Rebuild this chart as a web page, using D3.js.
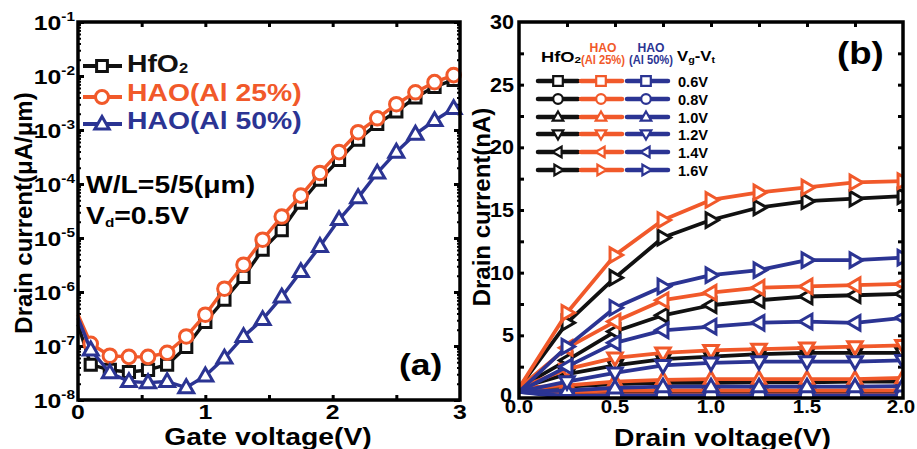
<!DOCTYPE html>
<html>
<head>
<meta charset="utf-8">
<script src="https://cdn.jsdelivr.net/npm/d3@7"></script>
<style>
  body { margin: 0; background: #fff; }
  text { font-family: "Liberation Sans", Arial, sans-serif; font-weight: bold; }
</style>
</head>
<body>
<script>
// ---- panel (a): transfer curves, Vd = 0.5 V
let gateV = [0, 0.1, 0.25, 0.4, 0.55, 0.7, 0.85, 1.0, 1.15, 1.3, 1.45, 1.6, 1.75, 1.9, 2.05, 2.2, 2.35, 2.5, 2.65, 2.8, 2.95];
let idHfO2 = [2.5e-7, 4.5e-8, 3.6e-8, 3.3e-8, 3.6e-8, 4.5e-8, 9.6e-8, 2.8e-7, 7.2e-7, 1.9e-6, 6.1e-6, 1.4e-5, 4.5e-5, 1.2e-4, 2.8e-4, 6.6e-4, 1.3e-3, 2.2e-3, 4.0e-3, 6.3e-3, 8.5e-3];
let idHao25 = [3.8e-7, 1.1e-7, 6.6e-8, 6.3e-8, 6.3e-8, 7.5e-8, 1.5e-7, 3.8e-7, 1.15e-6, 3.2e-6, 9.3e-6, 2.5e-5, 6.1e-5, 1.6e-4, 3.9e-4, 9.1e-4, 1.65e-3, 3.0e-3, 5.0e-3, 7.7e-3, 1.04e-2];
let idHao50 = [3.3e-7, 8.5e-8, 3.2e-8, 2.2e-8, 2.1e-8, 2.2e-8, 1.7e-8, 2.8e-8, 6.0e-8, 1.5e-7, 3.1e-7, 8.1e-7, 2.4e-6, 7.0e-6, 2.2e-5, 5.6e-5, 1.6e-4, 3.9e-4, 8.4e-4, 1.5e-3, 2.5e-3];
let decades = [1e-8, 1e-7, 1e-6, 1e-5, 1e-4, 1e-3, 1e-2, 1e-1];
let gateTicks = [0, 1, 2, 3];

// ---- panel (b): output curves
let drainV = [0, 0.25, 0.5, 0.75, 1.0, 1.25, 1.5, 1.75, 2.0];
let overdrive = ["0.6V", "0.8V", "1.0V", "1.2V", "1.4V", "1.6V"];
let shapes = ["square", "circle", "up", "down", "left", "right"];
let outHfO2 = [
  [0.8, 0.15, 0.15, 0.15, 0.15, 0.15, 0.15, 0.15, 0.15],
  [0.8, 0.4, 0.5, 0.5, 0.5, 0.5, 0.5, 0.5, 0.5],
  [0.8, 0.9, 1.1, 1.2, 1.2, 1.25, 1.25, 1.3, 1.3],
  [0.8, 1.9, 2.6, 3.1, 3.3, 3.5, 3.6, 3.6, 3.6],
  [0.8, 3.0, 5.3, 6.6, 7.4, 7.8, 8.1, 8.2, 8.3],
  [0.8, 6.0, 9.6, 12.8, 14.2, 15.2, 15.7, 15.9, 16.1]
];
let outHao25 = [
  [0.8, 0.2, 0.25, 0.25, 0.25, 0.25, 0.25, 0.25, 0.25],
  [0.8, 0.5, 0.6, 0.6, 0.6, 0.6, 0.6, 0.6, 0.6],
  [0.8, 1.0, 1.3, 1.45, 1.5, 1.5, 1.5, 1.5, 1.6],
  [0.8, 2.3, 3.2, 3.6, 3.8, 3.9, 4.0, 4.1, 4.2],
  [0.8, 4.0, 6.1, 7.8, 8.4, 8.8, 8.9, 9.0, 9.1],
  [0.8, 6.8, 11.4, 14.2, 15.8, 16.4, 16.8, 17.2, 17.3]
];
let outHao50 = [
  [0.5, 0.05, 0.05, 0.05, 0.05, 0.05, 0.05, 0.05, 0.05],
  [0.5, 0.15, 0.2, 0.2, 0.2, 0.2, 0.2, 0.2, 0.2],
  [0.5, 0.6, 0.8, 0.9, 0.9, 0.9, 0.9, 0.9, 0.95],
  [0.5, 1.3, 2.0, 2.6, 2.8, 2.9, 2.9, 2.9, 3.0],
  [0.5, 2.5, 4.4, 5.4, 5.7, 6.0, 6.1, 6.0, 6.4],
  [0.5, 4.1, 7.2, 8.9, 9.8, 10.2, 11.0, 11.0, 11.2]
];
let currentTicks = [0, 5, 10, 15, 20, 25, 30];
let drainTicks = [0, 0.5, 1.0, 1.5, 2.0];

let colors = { hfo2: "#111111", hao25: "#f1592a", hao50: "#2b3493" };
let SX = 1.18; // the figure is a little wider than tall, text too

let svg = d3.select("body").append("svg")
  .attr("width", 917)
  .attr("height", 449);

// marker outline centred on 0,0
function markerPath(type, r) {
  switch (type) {
    case "square": return `M${-r},${-r}H${r}V${r}H${-r}Z`;
    case "circle": return `M${r},0A${r},${r} 0 1,1 ${-r},0A${r},${r} 0 1,1 ${r},0Z`;
    case "up": return `M0,${-r * 1.15}L${r * 1.1},${r * 0.75}L${-r * 1.1},${r * 0.75}Z`;
    case "down": return `M0,${r * 1.15}L${r * 1.1},${-r * 0.75}L${-r * 1.1},${-r * 0.75}Z`;
    case "left": return `M${-r * 1.15},0L${r * 0.75},${-r * 1.1}L${r * 0.75},${r * 1.1}Z`;
    case "right": return `M${r * 1.15},0L${-r * 0.75},${-r * 1.1}L${-r * 0.75},${r * 1.1}Z`;
  }
}

function label(x, y, size, anchor, sx) {
  return svg.append("text")
    .attr("transform", `translate(${x},${y}) scale(${sx || SX},1)`)
    .attr("font-size", size)
    .attr("text-anchor", anchor || "start");
}

function series(g, xs, ys, x, y, color, shape, r, lw) {
  let pts = xs.map((v, i) => [v, ys[i]]);
  g.append("path")
    .attr("d", d3.line().x(d => x(d[0])).y(d => y(d[1]))(pts))
    .attr("fill", "none")
    .attr("stroke", color)
    .attr("stroke-width", lw)
    .attr("stroke-linejoin", "round");
  g.selectAll(null)
    .data(pts.slice(1))
    .enter().append("path")
    .attr("transform", d => `translate(${x(d[0])},${y(d[1])})`)
    .attr("d", markerPath(shape, r))
    .attr("fill", "#fff")
    .attr("stroke", color)
    .attr("stroke-width", 3);
}

function styleAxis(g) {
  g.select(".domain").remove();
  g.selectAll(".tick line").attr("stroke", "#000").attr("stroke-width", 3);
}

// ================= panel (a)
let xa = d3.scaleLinear().domain([0, 3]).range([78, 460]);
let ya = d3.scaleLog().domain([1e-8, 1e-1]).range([400, 22]);

let minorLog = [];
decades.slice(0, -1).forEach(d => { for (let k = 2; k < 10; k++) minorLog.push(d * k); });

svg.append("g").attr("transform", "translate(0,400)")
  .call(d3.axisBottom(xa).tickValues([0.5, 1, 1.5, 2, 2.5]).tickSize(-5).tickFormat("")).call(styleAxis);
svg.append("g").attr("transform", "translate(0,22)")
  .call(d3.axisTop(xa).tickValues([0.5, 1, 1.5, 2, 2.5]).tickSize(-5).tickFormat("")).call(styleAxis);
[[78, d3.axisLeft], [460, d3.axisRight]].forEach(([px, ax]) => {
  svg.append("g").attr("transform", `translate(${px},0)`)
    .call(ax(ya).tickValues(decades).tickSize(-6).tickFormat("")).call(styleAxis);
  svg.append("g").attr("transform", `translate(${px},0)`)
    .call(ax(ya).tickValues(minorLog).tickSize(-3).tickFormat(""))
    .call(g => { g.select(".domain").remove(); g.selectAll(".tick line").attr("stroke", "#000").attr("stroke-width", 2); });
});

decades.forEach(d => {
  let t = label(75, ya(d) + 7.5, 21, "end");
  t.append("tspan").text("10");
  t.append("tspan").attr("font-size", 13).attr("dy", -9).text(String(Math.round(Math.log10(d))));
});
gateTicks.forEach(d => label(xa(d), 419, 21, "middle").text(d));

let ga = svg.append("g");
series(ga, gateV, idHfO2, xa, ya, colors.hfo2, "square", 5.6, 3.4);
series(ga, gateV, idHao25, xa, ya, colors.hao25, "circle", 6.8, 3.4);
series(ga, gateV, idHao50, xa, ya, colors.hao50, "up", 6.8, 3.4);

svg.append("rect").attr("x", 78).attr("y", 22).attr("width", 382).attr("height", 378)
  .attr("fill", "none").attr("stroke", "#000").attr("stroke-width", 3.5);

// legend (a)
let legA = [
  ["HfO", "2", colors.hfo2, "square", 5.4, 66, 72],
  ["HAO(Al 25%)", "", colors.hao25, "circle", 6.5, 97, 101],
  ["HAO(Al 50%)", "", colors.hao50, "up", 6.5, 124, 129]
];
legA.forEach(([name, sub, color, shape, r, ly, by]) => {
  svg.append("line").attr("x1", 83).attr("x2", 122).attr("y1", ly).attr("y2", ly)
    .attr("stroke", color).attr("stroke-width", 4);
  svg.append("path").attr("transform", `translate(102,${ly})`).attr("d", markerPath(shape, r))
    .attr("fill", "#fff").attr("stroke", color).attr("stroke-width", 3);
  let t = label(127, by, 24).attr("fill", color);
  t.append("tspan").text(name);
  if (sub) t.append("tspan").attr("font-size", 14).attr("dy", 1).text(sub);
});

label(86, 193, 24).text("W/L=5/5(μm)");
let vd = label(86, 224, 24);
vd.append("tspan").text("V");
vd.append("tspan").attr("font-size", 13).attr("dy", 3).text("d");
vd.append("tspan").attr("dy", -3).text("=0.5V");
label(399, 375, 30).text("(a)");

label(xa(1.5) - 1, 445, 24, "middle").text("Gate voltage(V)");
svg.append("text").attr("transform", "translate(32,213) rotate(-90)")
  .attr("font-size", 24).attr("text-anchor", "middle").text("Drain current(μA/μm)");

// ================= panel (b)
let xb = d3.scaleLinear().domain([0, 2]).range([519, 903]);
let yb = d3.scaleLinear().domain([0, 30]).range([398, 22]);

let drainMinor = d3.range(0.25, 2, 0.25);
let currentMinor = d3.range(2.5, 30, 2.5);
svg.append("g").attr("transform", "translate(0,398)")
  .call(d3.axisBottom(xb).tickValues(drainMinor).tickSize(-5).tickFormat("")).call(styleAxis);
svg.append("g").attr("transform", "translate(0,22)")
  .call(d3.axisTop(xb).tickValues(drainMinor).tickSize(-5).tickFormat("")).call(styleAxis);
svg.append("g").attr("transform", "translate(519,0)")
  .call(d3.axisLeft(yb).tickValues(currentMinor).tickSize(-5).tickFormat("")).call(styleAxis);
svg.append("g").attr("transform", "translate(903,0)")
  .call(d3.axisRight(yb).tickValues(currentMinor).tickSize(-5).tickFormat("")).call(styleAxis);

currentTicks.forEach(d => label(d === 0 ? 512 : 514, yb(d) + (d === 0 ? 4 : 7), 20, "end", 1.08).text(d));
drainTicks.forEach(d => label(xb(d) - (d === 2 ? 2 : 0), 413, 19, "middle", 1.08).text(d.toFixed(1)));

svg.append("clipPath").attr("id", "clipb")
  .append("rect").attr("x", 519).attr("y", 22).attr("width", 384).attr("height", 376);
let gb = svg.append("g").attr("clip-path", "url(#clipb)");
[[outHfO2, colors.hfo2], [outHao25, colors.hao25], [outHao50, colors.hao50]].forEach(([set, color]) => {
  set.forEach((ys, i) => series(gb, drainV, ys, xb, yb, color, shapes[i], 6.6, 3.8));
});

svg.append("rect").attr("x", 519).attr("y", 22).attr("width", 384).attr("height", 376)
  .attr("fill", "none").attr("stroke", "#000").attr("stroke-width", 3.5);

// legend (b)
let h1 = label(541, 62, 14, "start", 1)
  .attr("textLength", 40).attr("lengthAdjust", "spacingAndGlyphs");
h1.append("tspan").text("HfO");
h1.append("tspan").attr("font-size", 9).attr("dy", 1).text("2");
[[603, "HAO", "(Al 25%)", colors.hao25], [651, "HAO", "(Al 50%)", colors.hao50]].forEach(([cx, top, bottom, color]) => {
  label(cx, 52, 12, "middle", 1).attr("fill", color)
    .attr("textLength", 27).attr("lengthAdjust", "spacingAndGlyphs").text(top);
  label(cx, 64, 12, "middle", 1).attr("fill", color)
    .attr("textLength", 44).attr("lengthAdjust", "spacingAndGlyphs").text(bottom);
});
let vgt = label(677, 61, 14, "start", 1)
  .attr("textLength", 38).attr("lengthAdjust", "spacingAndGlyphs");
vgt.append("tspan").text("V");
vgt.append("tspan").attr("font-size", 9).attr("dy", 2).text("g");
vgt.append("tspan").attr("dy", -2).text("-V");
vgt.append("tspan").attr("font-size", 9).attr("dy", 2).text("t");

let legRows = [81, 99, 117, 134, 152, 170];
let legCols = [[538, 578, 558, colors.hfo2], [581, 622, 601, colors.hao25], [627, 668, 646, colors.hao50]];
overdrive.forEach((name, i) => {
  let ly = legRows[i];
  legCols.forEach(([x1, x2, mx, color]) => {
    svg.append("line").attr("x1", x1).attr("x2", x2).attr("y1", ly).attr("y2", ly)
      .attr("stroke", color).attr("stroke-width", 4.5).attr("stroke-linecap", "round");
    svg.append("path").attr("transform", `translate(${mx},${ly})`).attr("d", markerPath(shapes[i], 4.8))
      .attr("fill", "#fff").attr("stroke", color).attr("stroke-width", 2.2);
  });
  label(678, ly + 5.5, 15, "start", 1).attr("textLength", 30).attr("lengthAdjust", "spacingAndGlyphs").text(name);
});

label(837, 64, 31).text("(b)");

label(xb(1.06), 446, 24, "middle").text("Drain voltage(V)");
svg.append("text").attr("transform", "translate(490,207) rotate(-90)")
  .attr("font-size", 24).attr("text-anchor", "middle").text("Drain current(nA)");
</script>
</body>
</html>
